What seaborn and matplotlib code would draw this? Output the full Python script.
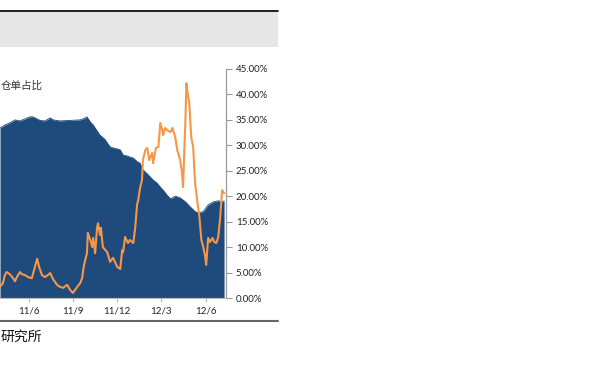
import matplotlib
matplotlib.use("Agg")
import matplotlib.pyplot as plt
from matplotlib.patches import Rectangle
from matplotlib.lines import Line2D
from matplotlib.ticker import FuncFormatter
import seaborn as sns
import pandas as pd

# ---- data ----
area_dates = ["2011-04-02", "2011-04-12", "2011-04-22", "2011-05-03", "2011-05-13", "2011-05-24",
              "2011-06-03", "2011-06-09", "2011-06-24", "2011-07-04", "2011-07-15", "2011-07-21",
              "2011-08-04", "2011-08-25", "2011-09-15", "2011-09-26", "2011-09-29", "2011-10-06",
              "2011-10-12", "2011-10-16", "2011-10-26", "2011-11-05", "2011-11-10", "2011-11-16",
              "2011-11-22", "2011-12-01", "2011-12-07", "2011-12-13", "2011-12-22", "2011-12-27",
              "2012-01-03", "2012-01-11", "2012-01-17", "2012-01-23", "2012-02-01", "2012-02-07",
              "2012-02-13", "2012-02-21", "2012-02-28", "2012-03-05", "2012-03-13", "2012-03-20",
              "2012-03-30", "2012-04-09", "2012-04-20", "2012-04-30", "2012-05-10", "2012-05-17",
              "2012-05-27", "2012-06-06", "2012-06-17", "2012-06-27", "2012-07-05", "2012-07-09"]
area_values = [33.4, 34.0, 34.4, 35.0, 34.8, 35.2, 35.6, 35.6, 34.9, 34.8, 35.4, 35.0,
               34.8, 34.9, 35.0, 35.4, 35.6, 34.6, 34.0, 33.4, 32.0, 31.2, 30.5, 29.7,
               29.5, 29.3, 29.1, 28.1, 27.9, 27.7, 27.5, 26.8, 26.5, 25.2, 24.4, 23.8,
               23.2, 22.6, 21.8, 21.2, 20.2, 19.5, 20.0, 19.7, 18.9, 17.9, 17.0, 16.7,
               17.0, 18.3, 18.9, 19.1, 18.9, 19.1]

line_dates = ["2011-04-02", "2011-04-08", "2011-04-12", "2011-04-16", "2011-04-22", "2011-04-29",
              "2011-05-03", "2011-05-07", "2011-05-13", "2011-05-17", "2011-05-24", "2011-05-30",
              "2011-06-07", "2011-06-11", "2011-06-18", "2011-06-22", "2011-06-28", "2011-07-04",
              "2011-07-10", "2011-07-15", "2011-07-21", "2011-07-29", "2011-08-04", "2011-08-11",
              "2011-08-19", "2011-08-25", "2011-08-31", "2011-09-09", "2011-09-15", "2011-09-19",
              "2011-09-23", "2011-09-29", "2011-10-01", "2011-10-06", "2011-10-10", "2011-10-12",
              "2011-10-16", "2011-10-20", "2011-10-22", "2011-10-26", "2011-10-28", "2011-11-01",
              "2011-11-10", "2011-11-16", "2011-11-22", "2011-12-01", "2011-12-07", "2011-12-11",
              "2011-12-13", "2011-12-17", "2011-12-23", "2011-12-27", "2012-01-03", "2012-01-07",
              "2012-01-11", "2012-01-13", "2012-01-17", "2012-01-21", "2012-01-23", "2012-01-28",
              "2012-02-01", "2012-02-05", "2012-02-11", "2012-02-13", "2012-02-19", "2012-02-24",
              "2012-02-28", "2012-03-03", "2012-03-05", "2012-03-09", "2012-03-13", "2012-03-20",
              "2012-03-24", "2012-03-30", "2012-04-03", "2012-04-09", "2012-04-13", "2012-04-15",
              "2012-04-20", "2012-04-22", "2012-04-24", "2012-04-28", "2012-05-02", "2012-05-06",
              "2012-05-10", "2012-05-15", "2012-05-19", "2012-05-23", "2012-05-27", "2012-05-31",
              "2012-06-02", "2012-06-06", "2012-06-10", "2012-06-15", "2012-06-19", "2012-06-23",
              "2012-06-27", "2012-07-01", "2012-07-05", "2012-07-09"]
line_values = [2.2, 2.9, 4.5, 5.1, 4.7, 3.9, 3.3, 4.1, 5.1, 4.7, 4.5, 4.1,
               3.9, 5.3, 7.7, 6.1, 4.5, 4.1, 4.5, 4.9, 3.7, 2.6, 2.2, 2.0,
               2.6, 1.6, 1.0, 2.2, 2.9, 3.9, 6.5, 8.8, 12.8, 11.4, 10.0, 11.8,
               8.8, 13.8, 14.7, 12.4, 13.8, 10.0, 9.0, 7.1, 7.9, 6.1, 5.7, 9.4,
               9.0, 12.0, 10.8, 11.4, 10.8, 13.8, 18.5, 19.1, 21.6, 23.2, 27.1, 29.1,
               29.5, 27.1, 28.5, 26.5, 29.5, 29.7, 34.4, 33.0, 32.0, 33.4, 33.0, 32.6,
               33.4, 31.6, 29.1, 27.1, 24.6, 21.8, 35.0, 42.2, 40.5, 38.3, 31.6, 29.7,
               22.6, 18.7, 15.9, 11.4, 10.0, 8.1, 6.5, 11.8, 11.0, 11.8, 11.0, 10.8,
               12.0, 15.9, 21.2, 20.6]

x_ticks = ["2011-06-01", "2011-09-01", "2011-12-01", "2012-03-01", "2012-06-01"]
x_tick_labels = ["11/6", "11/9", "11/12", "12/3", "12/6"]
y_ticks = [0, 5, 10, 15, 20, 25, 30, 35, 40, 45]

area_df = pd.DataFrame({"date": pd.to_datetime(area_dates), "value": [v / 100 for v in area_values]})
line_df = pd.DataFrame({"date": pd.to_datetime(line_dates), "value": [v / 100 for v in line_values]})

sns.set_style("white")
plt.rcParams["font.family"] = ["Lato", "Noto Sans CJK SC", "DejaVu Sans"]

W, H = 605, 375
fig = plt.figure(figsize=(W / 100, H / 100), dpi=100)

# header band
fig.add_artist(Rectangle((0, (H - 47) / H), 278 / W, 37 / H, transform=fig.transFigure,
                         facecolor="#e6e6e6", edgecolor="none", zorder=0))
fig.add_artist(Line2D([0, 278 / W], [(H - 10.5) / H] * 2, transform=fig.transFigure,
                      color="#111111", lw=1.3))
# bottom rule
fig.add_artist(Line2D([0, 278 / W], [(H - 320.5) / H] * 2, transform=fig.transFigure,
                      color="#666666", lw=1.5))

ax = fig.add_axes([0, (H - 298) / H, 226 / W, 229 / H])
blue = "#1f4a7c"
orange = "#f79646"

ax.fill_between(area_df["date"], 0, area_df["value"], color=blue, lw=0, zorder=1)
sns.lineplot(data=area_df, x="date", y="value", ax=ax, color=blue, lw=0.6, zorder=1)
sns.lineplot(data=line_df, x="date", y="value", ax=ax, color=orange, lw=1.5, zorder=3)

ax.set_xlim(pd.Timestamp("2011-04-02"), pd.Timestamp("2012-07-13"))
ax.set_ylim(0, 0.45)
ax.set_xlabel("")
ax.set_ylabel("")

ax.set_xticks(pd.to_datetime(x_ticks))
ax.set_xticklabels(x_tick_labels)
ax.set_yticks([v / 100 for v in y_ticks])
ax.yaxis.set_major_formatter(FuncFormatter(lambda v, p: f"{v*100:.2f}%"))
ax.yaxis.tick_right()

for s in ["top", "left"]:
    ax.spines[s].set_visible(False)
ax.spines["right"].set_color("#999999")
ax.spines["right"].set_linewidth(0.9)
ax.spines["bottom"].set_color("#bbbbbb")
ax.spines["bottom"].set_linewidth(0.8)

ax.tick_params(axis="y", direction="out", length=4, width=0.8, color="#999999",
               labelsize=7, labelcolor="#222222", pad=3, right=True, left=False)
ax.tick_params(axis="x", direction="out", length=3, width=0.8, color="#bbbbbb",
               labelsize=7, labelcolor="#222222", pad=3, bottom=True)

fig.text(1 / W, (H - 86) / H, "仓单占比", fontsize=7.6, color="#333333",
         family=["Noto Sans CJK SC", "DejaVu Sans"], va="center", ha="left")
fig.text(1 / W, (H - 337) / H, "研究所", fontsize=10, color="#111111",
         family=["Noto Sans CJK SC", "DejaVu Sans"], va="center", ha="left")

fig.savefig("out.png", dpi=100)
